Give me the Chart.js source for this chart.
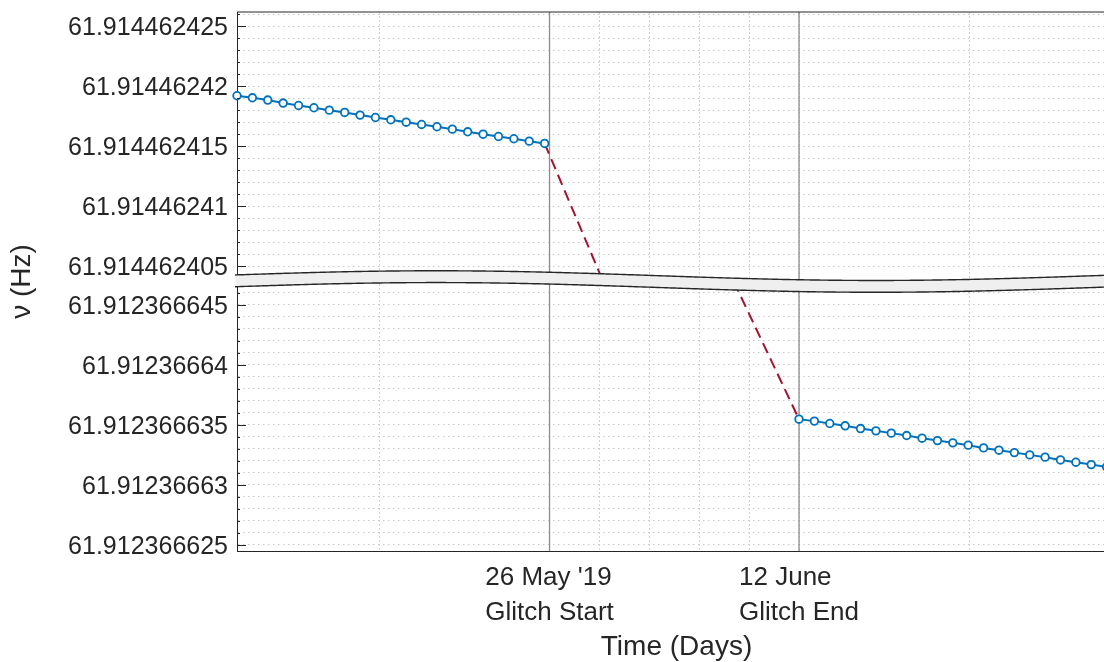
<!DOCTYPE html>
<html>
<head>
<meta charset="utf-8">
<title>Glitch frequency</title>
<script src="https://cdn.jsdelivr.net/npm/chart.js@4.4.1/dist/chart.umd.min.js"></script>
<style>
    html, body { margin: 0; padding: 0; background: #fff; overflow: hidden; }
    canvas { display: block; }
</style>
</head>
<body>
<!-- the plot runs a little past the window edge, as in the original figure -->
<canvas id="glitchChart" width="1116" height="662"></canvas>
<script>
// ============================ data ==============================
// time axis in days, first sample at 0
const topDays = [0, 1, 2, 3, 4, 5, 6, 7, 8, 9, 10, 11, 12, 13, 14, 15, 16, 17, 18, 19, 20];
const topFreq = [
    61.9144624192, 61.91446241903, 61.91446241884, 61.91446241859, 61.91446241839,
    61.9144624182, 61.914462418, 61.91446241781, 61.91446241759, 61.91446241739,
    61.9144624172, 61.914462417, 61.91446241681, 61.91446241662, 61.91446241642,
    61.9144624162, 61.914462416, 61.91446241581, 61.91446241562, 61.91446241542,
    61.91446241523
];

const bottomDays = [36.54, 37.54, 38.54, 39.54, 40.54, 41.54, 42.54, 43.54, 44.54, 45.54,
    46.54, 47.54, 48.54, 49.54, 50.54, 51.54, 52.54, 53.54, 54.54, 55.54, 56.54];
const bottomFreq = [
    61.91236663547, 61.91236663531, 61.91236663511, 61.91236663492, 61.91236663469,
    61.9123666345, 61.91236663431, 61.91236663411, 61.91236663389, 61.91236663369,
    61.9123666335, 61.91236663331, 61.91236663308, 61.91236663289, 61.91236663269,
    61.9123666325, 61.91236663231, 61.91236663208, 61.91236663189, 61.91236663169,
    61.9123666315
];

// dashed jump across the break (null = hidden behind the break)
const jumpDays = [20, 23.81, 28, 32.3, 36.54];
const jumpFreq = [61.91446241523, 61.91446240373, null, 61.91236664692, 61.91236663547];

const glitchStartDay = 20.32;
const glitchEndDay = 36.54;
const xGridDays = [9.28, 20.32, 23.56, 26.8, 30.05, 33.29, 36.54, 47.6];
const xLabelDays = [glitchStartDay, glitchEndDay];
const xLabelLines = [["26 May '19", "Glitch Start"], ["12 June", "Glitch End"]];

const yTickLabels = [
    '61.912366625', '61.91236663', '61.912366635', '61.91236664', '61.912366645',
    '61.914462405', '61.91446241', '61.914462415', '61.91446242', '61.914462425'
];

// ============================ broken axis ==============================
// axis units are 1e-9 Hz; upper panel sits above the lower one with a small gap
const bottomBase = 61.912366625;
const topBase = 61.914462405;
const breakGap = 3.19;
const breakLine = 22.42;   // where the wavy band sits

function toAxis(v) {
    if (v === null) return null;
    if (v > 61.913) return (v - topBase) * 1e9 + 20 + breakGap;
    return (v - bottomBase) * 1e9;
}

const majorPos = yTickLabels.map(s => toAxis(Number(s)));

function yGridPositions() {
    const list = [];
    for (let k = 0; k <= 21; k++) list.push(k);
    for (let k = 0; k <= 21; k++) list.push(20 + breakGap + k);
    return list;
}

function majorIndex(v) {
    return majorPos.findIndex(p => Math.abs(p - v) < 0.01);
}

function noPadding(scale) {
    scale.paddingTop = 0;
    scale.paddingBottom = 0;
    scale.paddingLeft = 0;
    scale.paddingRight = 0;
}

const ink = '#262626';
const font = '"Liberation Sans", Arial, Helvetica, sans-serif';

const breakPlugin = {
    id: 'breakPlugin',
    beforeDatasetsDraw(chart) {
        const {ctx, chartArea, scales: {x}} = chart;
        ctx.save();
        ctx.strokeStyle = '#8c8c8c';
        ctx.lineWidth = 1.3;
        [glitchStartDay, glitchEndDay].forEach(d => {
            const px = x.getPixelForValue(d);
            ctx.beginPath();
            ctx.moveTo(px, chartArea.top);
            ctx.lineTo(px, chartArea.bottom);
            ctx.stroke();
        });
        ctx.restore();
    },
    afterDatasetsDraw(chart) {
        const {ctx, chartArea, scales: {x, y}} = chart;
        const left = chartArea.left, right = chartArea.right;
        ctx.save();

        // top frame line
        ctx.strokeStyle = ink;
        ctx.lineWidth = 1;
        ctx.beginPath();
        ctx.moveTo(left, chartArea.top);
        ctx.lineTo(right, chartArea.top);
        ctx.stroke();

        // inward tick marks on the y axis
        y.ticks.forEach(t => {
            const py = Math.round(y.getPixelForValue(t.value)) + 0.5;
            const len = majorIndex(t.value) >= 0 ? 9 : 3;
            ctx.beginPath();
            ctx.moveTo(left, py);
            ctx.lineTo(left + len, py);
            ctx.stroke();
        });

        // wavy break band
        const mid = y.getPixelForValue(breakLine);
        const thick = 11.8;
        const wave = px => mid - 4.85 * Math.sin(2 * Math.PI * (px - (left - 21)) / 880);
        const edge = (off) => {
            ctx.beginPath();
            for (let px = left - 2; px <= right + 2; px += 2) {
                if (px === left - 2) ctx.moveTo(px, wave(px) + off); else ctx.lineTo(px, wave(px) + off);
            }
        };
        ctx.beginPath();
        for (let px = left - 2; px <= right + 2; px += 2) {
            if (px === left - 2) ctx.moveTo(px, wave(px)); else ctx.lineTo(px, wave(px));
        }
        for (let px = right + 2; px >= left - 2; px -= 2) ctx.lineTo(px, wave(px) + thick);
        ctx.closePath();
        ctx.fillStyle = '#efefef';
        ctx.fill();
        ctx.lineWidth = 1.4;
        ctx.strokeStyle = ink;
        edge(0);
        ctx.stroke();
        edge(thick);
        ctx.stroke();

        // x tick labels, lines left aligned inside a centred block
        ctx.fillStyle = ink;
        ctx.font = '26px ' + font;
        ctx.textAlign = 'left';
        ctx.textBaseline = 'alphabetic';
        xLabelDays.forEach((d, i) => {
            const lines = xLabelLines[i];
            const w = Math.max(...lines.map(s => ctx.measureText(s).width));
            const x0 = x.getPixelForValue(d) - w / 2;
            lines.forEach((s, j) => ctx.fillText(s, x0, chartArea.bottom + 34 + j * 35));
        });
        ctx.restore();
    }
};

// ============================ chart ==============================
const pointStyle = {
    borderColor: '#0072BD',
    borderWidth: 2,
    pointRadius: 3.8,
    pointBorderWidth: 1.8,
    pointBackgroundColor: '#fff',
    pointBorderColor: '#0072BD',
    clip: false,
    order: 1
};

const ctx = document.getElementById('glitchChart').getContext('2d');
new Chart(ctx, {
    type: 'line',
    data: {
        datasets: [
            Object.assign({
                label: 'before',
                data: topDays.map((d, i) => ({x: d, y: toAxis(topFreq[i])}))
            }, pointStyle),
            Object.assign({
                label: 'after',
                data: bottomDays.map((d, i) => ({x: d, y: toAxis(bottomFreq[i])}))
            }, pointStyle),
            {
                label: 'jump',
                data: jumpDays.map((d, i) => ({x: d, y: toAxis(jumpFreq[i])})),
                borderColor: '#A2142F',
                borderWidth: 2,
                borderDash: [11, 6],
                pointRadius: 0,
                spanGaps: false,
                order: 2
            }
        ]
    },
    options: {
        responsive: false,
        animation: false,
        layout: {autoPadding: false, padding: {top: 12, left: 0, right: 0, bottom: 0}},
        plugins: {
            legend: {display: false},
            tooltip: {enabled: false}
        },
        scales: {
            x: {
                type: 'linear',
                min: 0,
                max: 57.15,
                afterBuildTicks: scale => {
                    scale.ticks = xGridDays.map(v => ({value: v}));
                },
                afterFit: scale => {
                    scale.height = 111;
                    noPadding(scale);
                },
                grid: {color: '#d2d2d2', lineWidth: 1, drawTicks: false},
                border: {color: ink, width: 1, dash: [2, 2]},
                ticks: {display: false},
                title: {
                    display: true,
                    text: 'Time (Days)',
                    color: ink,
                    font: {family: font, size: 28, lineHeight: 1.0},
                    padding: {top: 0, bottom: 1}
                }
            },
            y: {
                type: 'linear',
                min: -0.5,
                max: 44.36,
                afterBuildTicks: scale => {
                    scale.ticks = yGridPositions().map(v => ({value: v}));
                },
                afterFit: scale => {
                    scale.width = 237;
                    noPadding(scale);
                },
                grid: {color: '#c8c8c8', lineWidth: 1, drawTicks: false},
                border: {color: ink, width: 1, dash: [1.5, 3.5]},
                ticks: {
                    autoSkip: false,
                    padding: 9,
                    labelOffset: 2,
                    color: ink,
                    font: {family: font, size: 25},
                    callback: function (value) {
                        const i = majorIndex(value);
                        return i >= 0 ? yTickLabels[i] : '';
                    }
                },
                title: {
                    display: true,
                    text: 'ν (Hz)',
                    color: ink,
                    font: {family: font, size: 28, lineHeight: 1.2},
                    padding: {top: 5, bottom: 0}
                }
            }
        }
    },
    plugins: [breakPlugin]
});
</script>
</body>
</html>
